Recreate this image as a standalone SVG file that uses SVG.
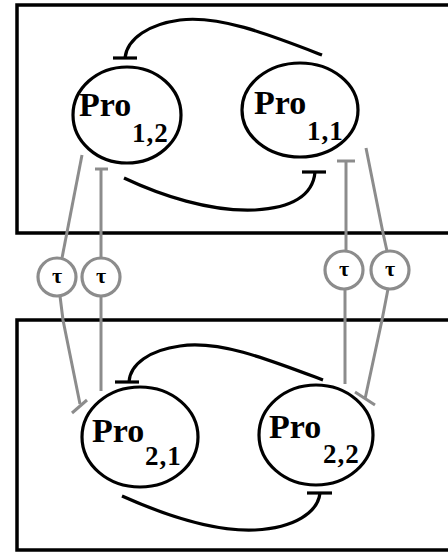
<svg xmlns="http://www.w3.org/2000/svg" width="448" height="553" viewBox="0 0 448 553">
  <defs>
    <style>
      .box { fill: none; stroke: #000; stroke-width: 3.5; }
      .ell { fill: #fff; stroke: #000; stroke-width: 3.2; }
      .blk { fill: none; stroke: #000; stroke-width: 3.2; stroke-linecap: butt; }
      .gry { fill: none; stroke: #8c8c8c; stroke-width: 3; }
      .tau { fill: #fff; stroke: #8c8c8c; stroke-width: 3.2; }
      text { font-family: 'Liberation Serif', 'DejaVu Serif', 'Times New Roman', serif; font-weight: bold; fill: #000; }
      .pro { font-size: 34px; }
      .sub { font-size: 27px; letter-spacing: 1px; }
      .tt { font-size: 22px; text-anchor: middle; }
    </style>
  </defs>

  <rect width="448" height="553" fill="#fff"/>

  <!-- compartments (open to the right) -->
  <g id="compartment-1"><rect class="box" x="17" y="5" width="460" height="228"/></g>
  <g id="compartment-2"><rect class="box" x="17" y="320" width="460" height="230"/></g>

  <!-- connectors -->
  <g id="connectors">
    <!-- repression loop, compartment 1 -->
    <path class="blk" d="M322,55 C270,35 220,15 180,20 C150,24 127,38 125,58"/>
    <path class="blk" d="M113,58 H137"/>
    <path class="blk" d="M124,178 C160,195 210,212 255,210 C292,208 313,195 315,172"/>
    <path class="blk" d="M302,172 H326"/>

    <!-- repression loop, compartment 2 -->
    <path class="blk" d="M323,380 C270,360 220,340 180,346 C150,350 130,364 129,382"/>
    <path class="blk" d="M115,382 H139"/>
    <path class="blk" d="M122,496 C160,513 210,532 255,530 C295,528 318,512 320,493"/>
    <path class="blk" d="M307,493 H332"/>

    <!-- delayed couplings between compartments -->
    <path class="gry" d="M82,155 L62,258"/>
    <path class="gry" d="M60,296 L63,320 L80,404"/>
    <path class="gry" d="M72,413 L87,400"/>

    <path class="gry" d="M95,169 H108"/>
    <path class="gry" d="M101,169 V258"/>
    <path class="gry" d="M101,296 V391"/>

    <path class="gry" d="M337,161 H355"/>
    <path class="gry" d="M346,161 V251"/>
    <path class="gry" d="M345,289 V384"/>

    <path class="gry" d="M366,148 L383,233 L387,251"/>
    <path class="gry" d="M388,289 L382,320 L365,399"/>
    <path class="gry" d="M355,392 L375,405"/>
  </g>

  <!-- delay nodes -->
  <g id="delay-a"><circle class="tau" cx="57" cy="277" r="19"/><text class="tt" x="57" y="283">τ</text></g>
  <g id="delay-b"><circle class="tau" cx="101" cy="277" r="19"/><text class="tt" x="101" y="283">τ</text></g>
  <g id="delay-c"><circle class="tau" cx="344" cy="270" r="19"/><text class="tt" x="344" y="276">τ</text></g>
  <g id="delay-d"><circle class="tau" cx="390" cy="270" r="19"/><text class="tt" x="390" y="276">τ</text></g>

  <!-- protein nodes -->
  <g id="pro-1-2">
    <ellipse class="ell" cx="127" cy="115" rx="54" ry="48"/>
    <text class="pro" x="79" y="116">Pro</text>
    <text class="sub" x="132" y="142">1,2</text>
  </g>
  <g id="pro-1-1">
    <ellipse class="ell" cx="300" cy="110" rx="58" ry="47"/>
    <text class="pro" x="254" y="114">Pro</text>
    <text class="sub" x="307" y="140">1,1</text>
  </g>
  <g id="pro-2-1">
    <ellipse class="ell" cx="140" cy="437" rx="58" ry="50"/>
    <text class="pro" x="92" y="442">Pro</text>
    <text class="sub" x="145" y="465">2,1</text>
  </g>
  <g id="pro-2-2">
    <ellipse class="ell" cx="316" cy="435" rx="57" ry="50"/>
    <text class="pro" x="269" y="438">Pro</text>
    <text class="sub" x="323" y="463">2,2</text>
  </g>
</svg>
